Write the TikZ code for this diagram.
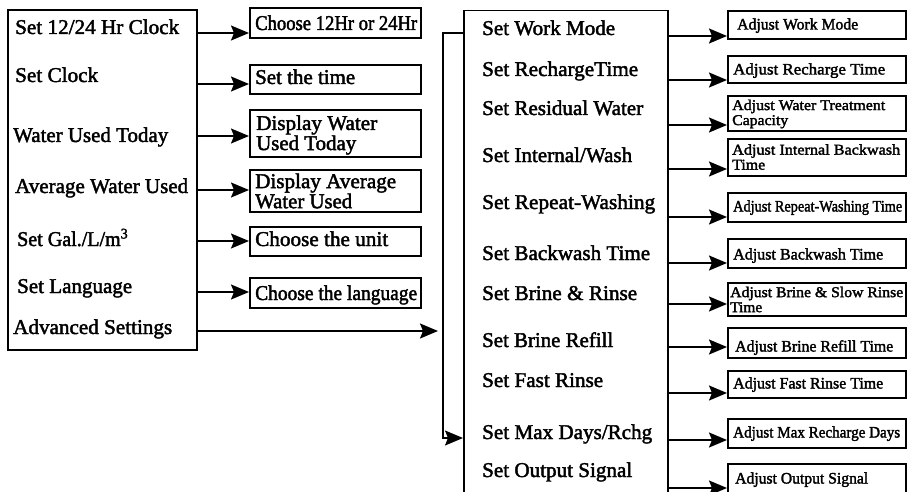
\documentclass[tikz,border=0pt]{standalone}
\usepackage{fontspec}
\usepackage{graphicx}
\setmainfont{Liberation Serif}
\newfontfamily\labfont{Liberation Serif}[FakeBold=2]
\usetikzlibrary{arrows.meta}
\newcommand\fitw[2]{\resizebox{#1pt}{\height}{#2}}
\tikzset{
  boxn/.style={draw, line width=1.8pt, inner sep=0pt, anchor=north west},
  big/.style={inner sep=0pt, anchor=base west, font=\labfont\fontsize{21}{18}\selectfont},
  bigtwo/.style={inner sep=0pt, anchor=west, align=left, font=\labfont\fontsize{21}{18}\selectfont},
  sml/.style={inner sep=0pt, anchor=base west, font=\labfont\fontsize{16}{14}\selectfont},
  smltwo/.style={inner sep=0pt, anchor=west, align=left, font=\labfont\fontsize{15}{15}\selectfont},
  arr/.style={line width=1.6pt, -{Stealth[length=18pt,width=15pt,inset=3pt]}},
}
\begin{document}
\begin{tikzpicture}[x=1pt,y=-1pt]
\useasboundingbox[fill=white] (0,0) rectangle (907,492);

% ---------- left main box ----------
\node[boxn, minimum width=189pt, minimum height=340pt] (L) at (7,9) {};
\node[big] (l1) at (15,34)  {\fitw{164}{Set 12/24 Hr Clock}};
\node[big] (l2) at (15,82)  {\fitw{83}{Set Clock}};
\node[big] (l3) at (13,142) {\fitw{155}{Water Used Today}};
\node[big] (l4) at (15,193) {\fitw{173}{Average Water Used}};
\node[big] (l5) at (17,246) {\fitw{111}{Set Gal./L/m\textsuperscript{3}}};
\node[big] (l6) at (17,293) {\fitw{115}{Set Language}};
\node[big] (l7) at (13,334) {\fitw{159}{Advanced Settings}};

% ---------- first result column ----------
\node[boxn, minimum width=171pt, minimum height=30pt] (a1) at (249,7)   {};
\node[boxn, minimum width=171pt, minimum height=29pt] (a2) at (249,64)  {};
\node[boxn, minimum width=171pt, minimum height=47pt] (a3) at (249,109) {};
\node[boxn, minimum width=171pt, minimum height=42pt] (a4) at (249,169) {};
\node[boxn, minimum width=171pt, minimum height=29pt] (a5) at (249,226) {};
\node[boxn, minimum width=171pt, minimum height=30pt] (a6) at (249,277) {};

\node[big] (at1) at (255,30)  {\fitw{162}{Choose 12Hr or 24Hr}};
\node[big] (at2) at (255,84)  {\fitw{100}{Set the time}};
\node[bigtwo] (at3) at (256,135) {\fitw{121}{Display Water}\\\fitw{100}{Used Today}};
\node[bigtwo] (at4) at (255,191) {\fitw{141}{Display Average}\\\fitw{97}{Water Used}};
\node[big] (at5) at (255,246) {\fitw{133}{Choose the unit}};
\node[big] (at6) at (255,300) {\fitw{162}{Choose the language}};

\draw[arr] (L.east |- 0,33)  -- (a1.west |- 0,33);
\draw[arr] (L.east |- 0,84)  -- (a2.west |- 0,84);
\draw[arr] (L.east |- 0,136) -- (a3.west |- 0,136);
\draw[arr] (L.east |- 0,190) -- (a4.west |- 0,190);
\draw[arr] (L.east |- 0,241) -- (a5.west |- 0,241);
\draw[arr] (L.east |- 0,292) -- (a6.west |- 0,292);

% ---------- advanced settings box ----------
\node[boxn, line width=1.5pt, minimum width=204pt, minimum height=490pt] (M) at (463,10) {};
\coordinate (bt) at (443,33);
\coordinate (bb) at (443,438);
\coordinate (advend) at (438,331);
\draw[arr] (L.east |- advend) -- (advend);
\draw[arr, line width=1.4pt] (M.west |- bt) -- (bt) -- (bb) -- (M.west |- bb);

\node[big] (m1)  at (482,35)  {\fitw{133}{Set Work Mode}};
\node[big] (m2)  at (482,76)  {\fitw{156}{Set RechargeTime}};
\node[big] (m3)  at (482,115) {\fitw{161}{Set Residual Water}};
\node[big] (m4)  at (482,162) {\fitw{150}{Set Internal/Wash}};
\node[big] (m5)  at (482,209) {\fitw{173}{Set Repeat-Washing}};
\node[big] (m6)  at (482,260) {\fitw{168}{Set Backwash Time}};
\node[big] (m7)  at (482,300) {\fitw{155}{Set Brine \& Rinse}};
\node[big] (m8)  at (482,347) {\fitw{131}{Set Brine Refill}};
\node[big] (m9)  at (482,387) {\fitw{121}{Set Fast Rinse}};
\node[big] (m10) at (482,439) {\fitw{170}{Set Max Days/Rchg}};
\node[big] (m11) at (482,477) {\fitw{150}{Set Output Signal}};

% ---------- right column ----------
\node[boxn, minimum width=178pt, minimum height=28pt] (r1)  at (727,10)  {};
\node[boxn, minimum width=178pt, minimum height=27pt] (r2)  at (727,55)  {};
\node[boxn, minimum width=178pt, minimum height=35pt] (r3)  at (727,95)  {};
\node[boxn, minimum width=178pt, minimum height=37pt] (r4)  at (727,138) {};
\node[boxn, minimum width=178pt, minimum height=29pt] (r5)  at (727,192) {};
\node[boxn, minimum width=178pt, minimum height=29pt] (r6)  at (727,238) {};
\node[boxn, minimum width=178pt, minimum height=33pt] (r7)  at (727,282) {};
\node[boxn, minimum width=178pt, minimum height=30pt] (r8)  at (727,327) {};
\node[boxn, minimum width=178pt, minimum height=27pt] (r9)  at (727,370) {};
\node[boxn, minimum width=178pt, minimum height=29pt] (r10) at (727,418) {};
\node[boxn, minimum width=178pt, minimum height=32pt] (r11) at (727,463) {};

\node[sml] (rt1)  at (737,29.5)  {\fitw{121}{Adjust Work Mode}};
\node[sml] (rt2)  at (733,74.5)  {\fitw{152}{Adjust Recharge Time}};
\node[smltwo] (rt3) at (732,114) {\fitw{153}{Adjust Water Treatment}\\\fitw{56}{Capacity}};
\node[smltwo] (rt4) at (732,157) {\fitw{168}{Adjust Internal Backwash}\\\fitw{33}{Time}};
\node[sml] (rt5)  at (733,211.5) {\fitw{169}{Adjust Repeat-Washing Time}};
\node[sml] (rt6)  at (733,259.5) {\fitw{150}{Adjust Backwash Time}};
\node[smltwo] (rt7) at (730,299.5) {\fitw{173}{Adjust Brine \& Slow Rinse}\\\fitw{32}{Time}};
\node[sml] (rt8)  at (735,351.5) {\fitw{158}{Adjust Brine Refill Time}};
\node[sml] (rt9)  at (733,388.5) {\fitw{150}{Adjust Fast Rinse Time}};
\node[sml] (rt10) at (733,437.5) {\fitw{167}{Adjust Max Recharge Days}};
\node[sml] (rt11) at (735,483.5) {\fitw{133}{Adjust Output Signal}};

\draw[arr] (M.east |- 0,36)  -- (r1.west |- 0,36);
\draw[arr] (M.east |- 0,80)  -- (r2.west |- 0,80);
\draw[arr] (M.east |- 0,125) -- (r3.west |- 0,125);
\draw[arr] (M.east |- 0,169) -- (r4.west |- 0,169);
\draw[arr] (M.east |- 0,217) -- (r5.west |- 0,217);
\draw[arr] (M.east |- 0,263) -- (r6.west |- 0,263);
\draw[arr] (M.east |- 0,304) -- (r7.west |- 0,304);
\draw[arr] (M.east |- 0,347) -- (r8.west |- 0,347);
\draw[arr] (M.east |- 0,393) -- (r9.west |- 0,393);
\draw[arr] (M.east |- 0,440) -- (r10.west |- 0,440);
\draw[arr] (M.east |- 0,488) -- (r11.west |- 0,488);
\end{tikzpicture}
\end{document}
